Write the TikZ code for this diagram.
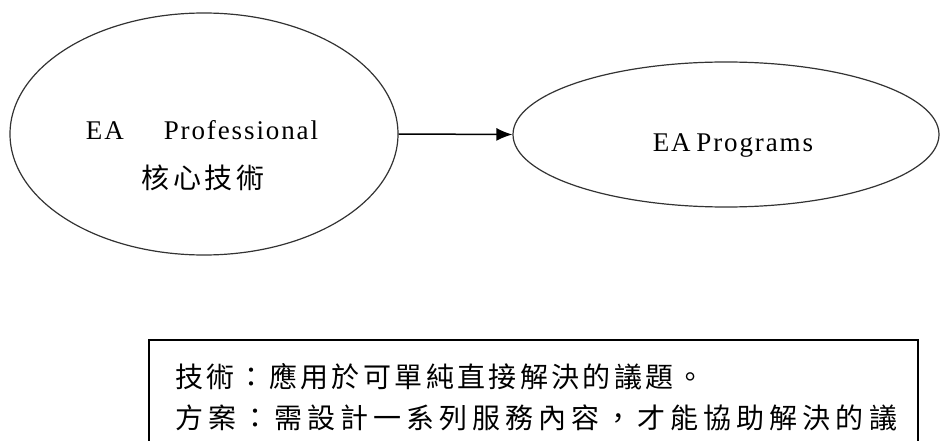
\documentclass[tikz,border=0pt]{standalone}
\usepackage{fontspec}
\setmainfont{Liberation Serif}
\newfontfamily\latsp[LetterSpace=7]{Liberation Serif}
\newfontfamily\cjka[LetterSpace=12]{Noto Sans CJK TC}
\newfontfamily\cjkc[LetterSpace=14]{Noto Sans CJK TC}
\newfontfamily\cjkb[LetterSpace=18]{Noto Sans CJK TC}
\usetikzlibrary{shapes.geometric,arrows.meta}
\definecolor{inkgray}{HTML}{333333}
\tikzset{
  oval/.style={ellipse, draw=inkgray, line width=1.2pt, inner sep=0pt},
  lat/.style={font=\latsp\fontsize{27}{30}\selectfont, inner sep=0pt},
  cjkl/.style={inner sep=0pt, anchor=west},
  conn/.style={line width=1.5pt, -{Latex[length=16pt,width=13pt]}},
  notebox/.style={draw=black, line width=2pt, inner sep=0pt, anchor=north west}
}
\begin{document}
\begin{tikzpicture}[x=1pt,y=-1pt]
\useasboundingbox (0,0) rectangle (940,441);
\clip (0,0) rectangle (940,441);
\fill[white] (0,0) rectangle (940,441);
% ellipses
\node[oval, minimum width=388pt, minimum height=242pt] (core) at (204,134) {};
\node[oval, minimum width=426pt, minimum height=145pt] (prog) at (726,134.5) {};
% texts in ellipses
\node[lat, anchor=base] (coreA) at (202,140) {EA\hspace{40pt}Professional};
\node[inner sep=0pt, font=\cjkc\fontsize{28}{30}\selectfont, anchor=base] (coreB) at (203,189) {核心技術};
\node[lat, anchor=base] (progT) at (733,152) {EA\hspace{-3pt} Programs};
% connector
\draw[conn] (core.east) -- (prog.west);
% note box
\node[notebox, minimum width=769pt, minimum height=140pt] (note) at (148,339) {};
\node[cjkl, font=\cjka\fontsize{28}{30}\selectfont] (l1) at (175,377) {技術：應用於可單純直接解決的議題。};
\node[cjkl, font=\cjkb\fontsize{28}{30}\selectfont] (l2) at (175,418) {方案：需設計一系列服務內容，才能協助解決的議};
\end{tikzpicture}
\end{document}
